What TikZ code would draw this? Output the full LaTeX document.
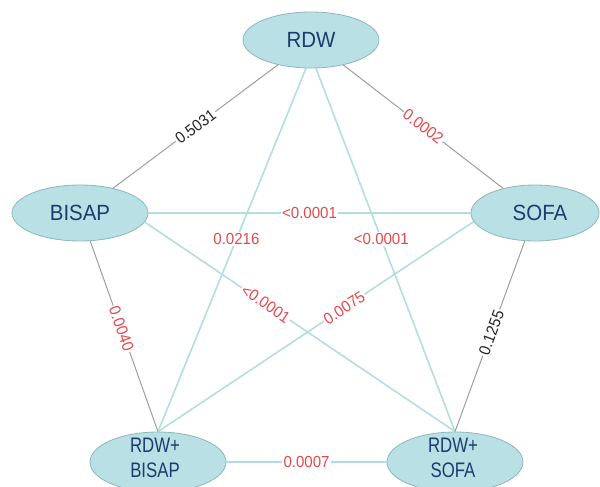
\documentclass[tikz,border=0pt]{standalone}
\usepackage{fontspec}
\setmainfont{Liberation Sans}
\newfontfamily\nodefont[FakeStretch=0.93]{Liberation Sans}
\newfontfamily\nodefontc[FakeStretch=0.8]{Liberation Sans}
\newfontfamily\labfont[FakeStretch=0.94]{Liberation Sans}
\usetikzlibrary{shapes.geometric}
\definecolor{ellfill}{HTML}{B9E0E4}
\definecolor{elldraw}{HTML}{8DB6BA}
\definecolor{ntext}{HTML}{1D3C6E}
\definecolor{grayedge}{HTML}{9E9E9E}
\definecolor{cyanedge}{HTML}{B3DEDF}
\definecolor{redlab}{HTML}{E5484B}
\definecolor{blacklab}{HTML}{262626}
\begin{document}
\begin{tikzpicture}[x=1pt,y=-1pt,
  ell/.style={ellipse, draw=elldraw, line width=0.8pt, fill=ellfill,
    minimum width=136pt, minimum height=56pt, inner sep=0pt,
    text=ntext, font=\nodefont\fontsize{22}{25}\selectfont},
  ntxt/.style={text=ntext, font=\nodefontc\fontsize{21}{25}\selectfont, align=center, inner sep=0pt},
  gedge/.style={draw=grayedge, line width=1pt},
  cedge/.style={draw=cyanedge, line width=1.6pt},
  lab/.style={fill=white, inner sep=1.5pt, font=\labfont\fontsize{16}{18}\selectfont},
  rlab/.style={lab, text=redlab},
  blab/.style={lab, text=blacklab}]
\useasboundingbox (0,0) rectangle (600,487);
\clip (0,0) rectangle (600,487);
\node[ell] (rdw) at (311,40) {RDW};
\node[ell] (bisap) at (80,213) {BISAP};
\node[ell, minimum width=128pt] (sofa) at (535,213) {};
\node[ntxt, font=\nodefont\fontsize{22}{25}\selectfont] (sofat) at (540,213) {SOFA};
\node[ell, minimum height=60pt] (rb) at (158,462) {};
\node[ntxt] (rbt) at (155,458) {RDW+\\BISAP};
\node[ell, minimum height=60pt] (rs) at (455,462) {};
\node[ntxt] (rst) at (453,458) {RDW+\\SOFA};

\draw[gedge] (rdw) -- node[blab, sloped] {0.5031} (bisap);
\draw[gedge] (rdw) -- node[rlab, sloped] {0.0002} (sofa);
\draw[cedge] (bisap) -- node[rlab] {<0.0001} (sofa);
\draw[cedge] (rdw.-100) -- node[rlab, pos=0.47] {0.0216} (rb.north);
\draw[cedge] (rdw.-80) -- node[rlab, pos=0.47] {<0.0001} (rs.north);
\draw[cedge] (bisap.-8) -- node[rlab, sloped, pos=0.39] {<0.0001} (rs.north);
\draw[cedge] (sofa.188) -- node[rlab, sloped, pos=0.41] {0.0075} (rb.north);
\draw[gedge] (bisap.-70) -- node[rlab, sloped, pos=0.46] {0.0040} (rb.north);
\draw[gedge] (sofa.-110) -- node[blab, sloped, pos=0.48] {0.1255} (rs.north);
\draw[cedge] (rb.east) -- node[rlab] {0.0007} (rs.west);
\end{tikzpicture}
\end{document}
